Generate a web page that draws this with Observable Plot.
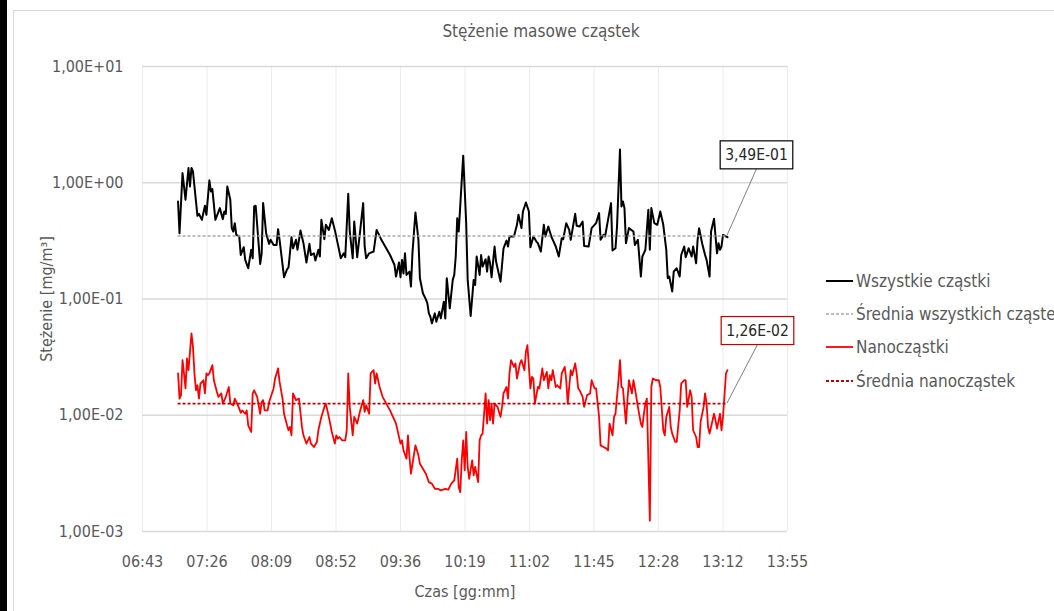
<!DOCTYPE html>
<html><head><meta charset="utf-8">
<script src="https://cdn.jsdelivr.net/npm/d3@7"></script>
<script src="https://cdn.jsdelivr.net/npm/@observablehq/plot@0.6"></script>
<style>
html,body{margin:0;padding:0;background:#fff;}
body{width:1054px;height:611px;overflow:hidden;position:relative;font-family:"Liberation Sans Narrow","DejaVu Sans Condensed",sans-serif;color:#595959;}
#bar{position:absolute;left:0;top:0;width:7px;height:611px;background:#000;}
#frame{position:absolute;left:13px;top:10px;width:1100px;height:700px;border:1px solid #d9d9d9;}
#title{position:absolute;left:0;width:1082px;top:21px;text-align:center;font-size:17px;}
#chart{position:absolute;left:0;top:0;}
#legend{position:absolute;left:826px;top:264px;}
.row{height:33.3px;display:flex;align-items:center;white-space:nowrap;font-size:17px;}
.row svg{margin-right:3px;}
</style></head>
<body>
<div id="bar"></div>
<div id="frame"></div>
<div id="chart"></div>
<div id="title">Stężenie masowe cząstek</div>
<div id="legend"></div>
<script>
// ---- data ----
const xTickDays = [0.28,0.31,0.34,0.37,0.40,0.43,0.46,0.49,0.52,0.55,0.58];
const xTickLabels = ["06:43","07:26","08:09","08:52","09:36","10:19","11:02","11:45","12:28","13:12","13:55"];
const yTicks = [0.001,0.01,0.1,1,10];
const yTickLabels = ["1,00E-03","1,00E-02","1,00E-01","1,00E+00","1,00E+01"];
const seriesNames = ["Wszystkie cząstki","Średnia wszystkich cząstek","Nanocząstki","Średnia nanocząstek"];
const meanAll = 0.349, meanAllLabel = "3,49E-01";
const meanNano = 0.0126, meanNanoLabel = "1,26E-02";

const allTimes = ["07:07","07:08","07:10","07:12","07:14","07:15","07:16","07:17","07:20","07:21","07:23","07:25","07:26","07:28","07:29","07:30","07:32","07:35","07:37","07:38","07:39","07:40","07:42","07:43","07:44","07:45","07:46","07:48","07:49","07:51","07:52","07:54","07:56","07:57","07:58","07:59","08:00","08:02","08:03","08:04","08:06","08:08","08:09","08:11","08:13","08:14","08:15","08:18","08:20","08:21","08:23","08:24","08:26","08:27","08:29","08:31","08:33","08:35","08:36","08:38","08:39","08:41","08:42","08:43","08:45","08:46","08:48","08:50","08:52","08:54","08:56","08:58","08:59","09:01","09:02","09:04","09:05","09:07","09:09","09:11","09:12","09:13","09:15","09:18","09:20","09:23","09:29","09:32","09:33","09:35","09:36","09:37","09:38","09:39","09:40","09:42","09:43","09:44","09:46","09:48","09:49","09:51","09:53","09:54","09:55","09:56","09:57","09:59","10:00","10:02","10:03","10:05","10:06","10:07","10:09","10:11","10:12","10:13","10:14","10:15","10:18","10:20","10:21","10:23","10:25","10:26","10:27","10:29","10:30","10:31","10:33","10:34","10:35","10:36","10:37","10:39","10:40","10:43","10:45","10:47","10:48","10:49","10:52","10:54","10:55","10:57","10:58","11:00","11:02","11:03","11:05","11:07","11:08","11:10","11:12","11:13","11:15","11:17","11:18","11:20","11:22","11:24","11:25","11:27","11:29","11:30","11:33","11:34","11:36","11:38","11:39","11:42","11:44","11:47","11:49","11:50","11:52","11:53","11:55","11:57","11:58","12:00","12:01","12:03","12:04","12:05","12:06","12:07","12:09","12:12","12:13","12:15","12:17","12:18","12:20","12:22","12:23","12:24","12:26","12:28","12:30","12:32","12:34","12:35","12:36","12:38","12:39","12:41","12:43","12:44","12:46","12:47","12:49","12:51","12:52","12:54","12:55","12:56","12:58","13:00","13:01","13:03","13:04","13:06","13:07","13:08","13:09","13:10","13:11","13:12","13:14","13:15"];
const allValues = [0.690,0.368,1.21,0.714,1.34,0.930,1.34,1.25,0.519,0.540,0.480,0.634,0.530,1.05,0.842,0.882,0.480,0.605,0.486,0.566,0.540,0.930,0.714,0.407,0.381,0.449,0.356,0.345,0.239,0.279,0.217,0.184,0.265,0.224,0.625,0.634,0.435,0.200,0.247,0.668,0.368,0.298,0.323,0.292,0.292,0.399,0.323,0.154,0.180,0.187,0.340,0.273,0.323,0.265,0.388,0.302,0.206,0.298,0.239,0.247,0.214,0.265,0.232,0.480,0.327,0.435,0.393,0.496,0.393,0.298,0.224,0.247,0.229,0.804,0.381,0.224,0.464,0.229,0.388,0.668,0.283,0.224,0.247,0.256,0.393,0.327,0.239,0.196,0.156,0.206,0.154,0.217,0.166,0.247,0.161,0.172,0.128,0.247,0.555,0.323,0.151,0.112,0.0993,0.0918,0.0752,0.0704,0.0617,0.0752,0.0638,0.0778,0.0681,0.0948,0.0681,0.151,0.0831,0.146,0.161,0.232,0.496,0.381,1.71,0.449,0.146,0.0714,0.146,0.132,0.232,0.161,0.239,0.190,0.220,0.172,0.232,0.203,0.154,0.283,0.210,0.141,0.273,0.318,0.283,0.345,0.345,0.435,0.530,0.407,0.566,0.677,0.566,0.279,0.345,0.312,0.302,0.256,0.435,0.345,0.420,0.345,0.323,0.283,0.232,0.333,0.327,0.449,0.393,0.323,0.540,0.426,0.420,0.464,0.286,0.283,0.407,0.449,0.548,0.323,0.356,0.345,0.480,0.668,0.261,0.273,0.415,1.93,0.625,0.690,0.605,0.302,0.407,0.381,0.292,0.323,0.156,0.232,0.265,0.585,0.265,0.605,0.449,0.435,0.566,0.435,0.265,0.151,0.156,0.116,0.172,0.184,0.156,0.239,0.283,0.229,0.273,0.232,0.283,0.203,0.323,0.407,0.302,0.239,0.217,0.156,0.381,0.490,0.345,0.247,0.302,0.265,0.283,0.356,0.345,0.340];

const nanoTimes = ["07:07","07:08","07:09","07:10","07:11","07:12","07:13","07:14","07:16","07:17","07:18","07:19","07:20","07:21","07:22","07:24","07:25","07:26","07:27","07:28","07:30","07:31","07:33","07:34","07:36","07:37","07:39","07:41","07:42","07:44","07:45","07:47","07:48","07:49","07:50","07:52","07:53","07:54","07:56","07:57","07:58","08:00","08:02","08:03","08:04","08:05","08:07","08:08","08:11","08:12","08:14","08:15","08:17","08:18","08:20","08:21","08:22","08:23","08:24","08:26","08:28","08:30","08:31","08:33","08:35","08:36","08:38","08:40","08:41","08:43","08:45","08:46","08:48","08:50","08:52","08:53","08:54","08:55","08:57","08:59","09:00","09:01","09:02","09:04","09:05","09:07","09:09","09:11","09:12","09:13","09:15","09:16","09:18","09:19","09:20","09:22","09:24","09:29","09:33","09:36","09:37","09:38","09:40","09:41","09:42","09:43","09:46","09:48","09:49","09:51","09:53","09:55","09:57","09:59","10:01","10:03","10:06","10:08","10:10","10:12","10:14","10:15","10:16","10:17","10:18","10:19","10:20","10:21","10:22","10:24","10:25","10:26","10:28","10:29","10:30","10:31","10:33","10:34","10:35","10:36","10:37","10:38","10:39","10:41","10:43","10:44","10:45","10:47","10:48","10:49","10:50","10:52","10:53","10:54","10:56","10:57","10:59","11:00","11:01","11:03","11:04","11:05","11:06","11:08","11:09","11:11","11:12","11:14","11:15","11:16","11:17","11:18","11:20","11:21","11:23","11:24","11:25","11:26","11:27","11:28","11:30","11:31","11:33","11:34","11:35","11:36","11:38","11:39","11:41","11:43","11:44","11:46","11:47","11:49","11:50","11:52","11:54","11:55","11:56","11:58","11:59","12:00","12:02","12:03","12:04","12:05","12:07","12:08","12:09","12:11","12:12","12:13","12:15","12:17","12:18","12:19","12:20","12:21","12:23","12:24","12:25","12:27","12:29","12:30","12:32","12:33","12:34","12:36","12:37","12:38","12:40","12:41","12:43","12:44","12:46","12:47","12:48","12:50","12:51","12:52","12:54","12:55","12:56","12:57","12:59","13:00","13:01","13:02","13:03","13:04","13:06","13:07","13:08","13:10","13:11","13:12","13:14","13:15"];
const nanoValues = [0.0229,0.0139,0.0149,0.0298,0.0229,0.0170,0.0308,0.0244,0.0506,0.0388,0.0229,0.0164,0.0181,0.0139,0.0187,0.0200,0.0154,0.0229,0.0221,0.0229,0.0270,0.0200,0.0159,0.0144,0.0154,0.0126,0.0144,0.0175,0.0126,0.0122,0.0139,0.0122,0.0114,0.0105,0.0110,0.0103,0.0110,0.00820,0.00718,0.0154,0.0164,0.0144,0.0103,0.0130,0.0135,0.0110,0.0110,0.0130,0.0170,0.0207,0.0253,0.0194,0.0139,0.0103,0.00820,0.00743,0.00793,0.00672,0.0154,0.0135,0.0139,0.00793,0.00672,0.00570,0.00650,0.00570,0.00533,0.00589,0.00743,0.00968,0.0118,0.0126,0.00968,0.00718,0.00570,0.00672,0.00629,0.00650,0.00609,0.00609,0.00743,0.0229,0.0118,0.00672,0.00968,0.00848,0.0110,0.0135,0.0107,0.0122,0.0103,0.0229,0.0244,0.0187,0.0229,0.0175,0.0144,0.0110,0.00848,0.00570,0.00609,0.00499,0.00423,0.00672,0.00437,0.00314,0.00551,0.00452,0.00383,0.00347,0.00314,0.00266,0.00258,0.00233,0.00233,0.00226,0.00233,0.00229,0.00258,0.00275,0.00423,0.00241,0.00218,0.00409,0.00609,0.00336,0.00718,0.00359,0.00284,0.00409,0.00304,0.00359,0.00266,0.00609,0.00672,0.00695,0.0154,0.00848,0.0135,0.00905,0.0126,0.00848,0.0126,0.0118,0.00968,0.0118,0.0154,0.0175,0.0139,0.0229,0.0298,0.0261,0.0279,0.0207,0.0279,0.0298,0.0244,0.0352,0.0401,0.0170,0.0214,0.0207,0.0126,0.0175,0.0170,0.0253,0.0200,0.0236,0.0170,0.0221,0.0200,0.0244,0.0175,0.0181,0.0170,0.0229,0.0244,0.0261,0.0200,0.0126,0.0244,0.0221,0.0279,0.0229,0.0170,0.0164,0.0144,0.0118,0.0149,0.0154,0.0200,0.0170,0.0170,0.00968,0.00551,0.00533,0.00516,0.00499,0.00848,0.00672,0.00968,0.0103,0.0200,0.0298,0.0175,0.0170,0.00848,0.0135,0.0200,0.0154,0.0200,0.0170,0.0118,0.00848,0.00793,0.0103,0.0126,0.0139,0.00124,0.0175,0.0207,0.0200,0.0200,0.0175,0.00743,0.00672,0.00968,0.0118,0.00793,0.00695,0.00589,0.00589,0.0110,0.0187,0.0200,0.0200,0.0118,0.0164,0.0144,0.00743,0.00650,0.00533,0.00533,0.00876,0.0118,0.0154,0.0126,0.00793,0.00695,0.00793,0.0103,0.00905,0.00768,0.0103,0.00743,0.00968,0.0229,0.0244];

// ---- build ----
const FONT = '"Liberation Sans Narrow","DejaVu Sans Condensed",sans-serif';
const toMin = s => { const [h, m] = s.split(":").map(Number); return h * 60 + m; };
const all = allTimes.map((t, i) => ({t: toMin(t), v: allValues[i]}));
const nano = nanoTimes.map((t, i) => ({t: toMin(t), v: nanoValues[i]}));
const xTicks = xTickDays.map(d => d * 1440);
const xFmt = d => xTickLabels[xTicks.findIndex(t => Math.abs(t - d) < 1e-6)];
const yFmt = d => yTickLabels[yTicks.findIndex(t => Math.abs(t - d) / t < 1e-6)];
const allStart = all[0].t, allEnd = all[all.length - 1].t;
const nanoStart = nano[0].t, nanoEnd = nano[nano.length - 1].t;

const plot = Plot.plot({
  width: 1054, height: 611,
  marginLeft: 142, marginRight: 267, marginTop: 66, marginBottom: 80,
  style: {background: "transparent", fontFamily: FONT, fontSize: "16px", color: "#595959", overflow: "visible"},
  x: {type: "linear", domain: [xTicks[0], xTicks[xTicks.length - 1]], ticks: xTicks, tickFormat: xFmt,
      tickSize: 0, tickPadding: 24, label: "Czas [gg:mm]", labelAnchor: "center", labelArrow: "none", labelOffset: 65},
  y: {type: "log", domain: [yTicks[0], yTicks[yTicks.length - 1]], ticks: yTicks, tickFormat: yFmt,
      tickSize: 0, tickPadding: 19, label: "Stężenie [mg/m³]", labelAnchor: "center", labelArrow: "none", labelOffset: 102},
  marks: [
    Plot.gridX(xTicks, {stroke: "#ececec", strokeOpacity: 1}),
    Plot.gridY(yTicks, {stroke: "#d9d9d9", strokeOpacity: 1, strokeWidth: 1.3}),
    Plot.line(all, {x: "t", y: "v", stroke: "#000", strokeWidth: 2}),
    Plot.ruleY([meanAll], {x1: allStart, x2: allEnd, stroke: "#a6a6a6", strokeWidth: 1.5, strokeDasharray: "3,2"}),
    Plot.line(nano, {x: "t", y: "v", stroke: "#ff0000", strokeWidth: 1.8}),
    Plot.ruleY([meanNano], {x1: nanoStart, x2: nanoEnd, stroke: "#c00000", strokeWidth: 1.8, strokeDasharray: "3,2"}),
    Plot.text([{t: allEnd, v: meanAll, s: meanAllLabel}], {x: "t", y: "v", text: "s", dx: 29, dy: -81, fill: "#262626", fontSize: 15.5}),
    Plot.text([{t: nanoEnd, v: meanNano, s: meanNanoLabel}], {x: "t", y: "v", text: "s", dx: 30, dy: -73, fill: "#262626", fontSize: 15.5})
  ]
});
document.getElementById("chart").append(plot);

// callout boxes and leader lines
const xs = plot.scale("x"), ys = plot.scale("y");
const svgRect = plot.getBoundingClientRect();
const NS = "http://www.w3.org/2000/svg";
[[meanAllLabel, allEnd, meanAll, "#000000"], [meanNanoLabel, nanoEnd, meanNano, "#c00000"]].forEach(([lab, t, v, col]) => {
  const el = Array.from(plot.querySelectorAll("text")).find(e => e.textContent === lab);
  if (!el) return;
  const r = el.getBoundingClientRect();
  const x0 = r.left - svgRect.left - 5, y0 = r.top - svgRect.top - 5;
  const w = r.width + 10, h = r.height + 10;
  let g = el; while (g.parentNode !== plot) g = g.parentNode;
  const line = document.createElementNS(NS, "line");
  line.setAttribute("x1", x0 + w / 2); line.setAttribute("y1", y0 + h);
  line.setAttribute("x2", xs.apply(t)); line.setAttribute("y2", ys.apply(v));
  line.setAttribute("stroke", "#7f7f7f"); line.setAttribute("stroke-width", 1);
  const rect = document.createElementNS(NS, "rect");
  rect.setAttribute("x", x0); rect.setAttribute("y", y0);
  rect.setAttribute("width", w); rect.setAttribute("height", h);
  rect.setAttribute("fill", "#fff"); rect.setAttribute("stroke", col); rect.setAttribute("stroke-width", 1.2);
  plot.insertBefore(line, g);
  plot.insertBefore(rect, g);
});

// legend
const legendStyles = [
  {stroke: "#000", dash: null, w: 2},
  {stroke: "#a6a6a6", dash: "3,2", w: 1.5},
  {stroke: "#ff0000", dash: null, w: 1.8},
  {stroke: "#c00000", dash: "3,2", w: 1.8}
];
const legend = document.getElementById("legend");
seriesNames.forEach((name, i) => {
  const s = legendStyles[i];
  const row = document.createElement("div");
  row.className = "row";
  row.innerHTML = `<svg width="27" height="10"><line x1="0" y1="5" x2="27" y2="5" stroke="${s.stroke}" stroke-width="${s.w}" ${s.dash ? `stroke-dasharray="${s.dash}"` : ""}/></svg><span>${name}</span>`;
  legend.append(row);
});
</script>
</body></html>
